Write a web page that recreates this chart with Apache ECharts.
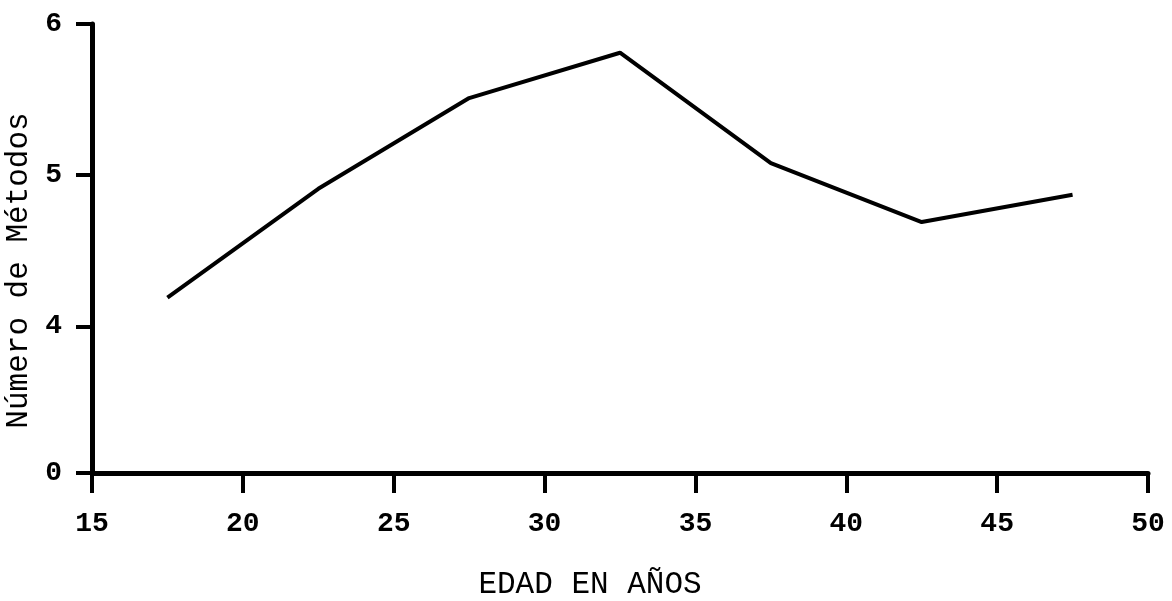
<!DOCTYPE html>
<html><head><meta charset="utf-8">
<script src="https://cdn.jsdelivr.net/npm/echarts@6/dist/echarts.min.js"></script>
<style>html,body{margin:0;padding:0;background:#fff}#c{width:1172px;height:601px}</style>
</head><body><div id="c"></div>
<script>
// Data
const ages = [17.5, 22.5, 27.5, 32.5, 37.5, 42.5, 47.5];
const methods = [4.19, 4.91, 5.51, 5.81, 5.08, 4.69, 4.87];
const xTicks = [15, 20, 25, 30, 35, 40, 45, 50];
const yTickLabels = ['0', '4', '5', '6'];
// broken y axis: "0" is drawn just below 4 on the scale
const yTickPositions = [3.03, 4, 5, 6];

const font = '"Liberation Mono", "DejaVu Sans Mono", monospace';
const chart = echarts.init(document.getElementById('c'));
chart.setOption({
  animation: false,
  backgroundColor: '#fff',
  grid: {left: 92, right: 24, top: 24, bottom: 128, containLabel: false, outerBoundsMode: 'none'},
  xAxis: {
    type: 'value', min: 15, max: 50, interval: 5,
    name: 'EDAD EN AÑOS', nameLocation: 'middle', nameGap: 96,
    nameTextStyle: {fontFamily: font, fontSize: 31, color: '#000', padding: [0, 60, 0, 0]},
    axisLine: {show: true, lineStyle: {color: '#000', width: 5}},
    axisTick: {show: true, inside: false, length: 20, lineStyle: {color: '#000', width: 4}},
    axisLabel: {fontFamily: font, fontSize: 28, fontWeight: 'bold', color: '#000', margin: 37,
      formatter: v => xTicks.includes(v) ? String(v) : ''},
    splitLine: {show: false}
  },
  yAxis: {
    type: 'value', min: 3.03, max: 6,
    name: 'Número de Métodos', nameLocation: 'middle', nameGap: 55, nameRotate: 90,
    nameTextStyle: {fontFamily: font, fontSize: 31, color: '#000', padding: [0, 44, 0, 0]},
    axisLine: {show: true, lineStyle: {color: '#000', width: 5}},
    axisTick: {show: true, length: 16, lineStyle: {color: '#000', width: 4}, customValues: yTickPositions},
    axisLabel: {fontFamily: font, fontSize: 28, fontWeight: 'bold', color: '#000', margin: 30,
      customValues: yTickPositions,
      formatter: v => { const i = yTickPositions.findIndex(p => Math.abs(p - v) < 1e-6); return i >= 0 ? yTickLabels[i] : ''; }},
    splitLine: {show: false}
  },
  series: [{
    type: 'line',
    data: ages.map((a, i) => [a, methods[i]]),
    showSymbol: false,
    lineStyle: {color: '#000', width: 4},
    itemStyle: {color: '#000'}
  }]
});
</script>
</body></html>
